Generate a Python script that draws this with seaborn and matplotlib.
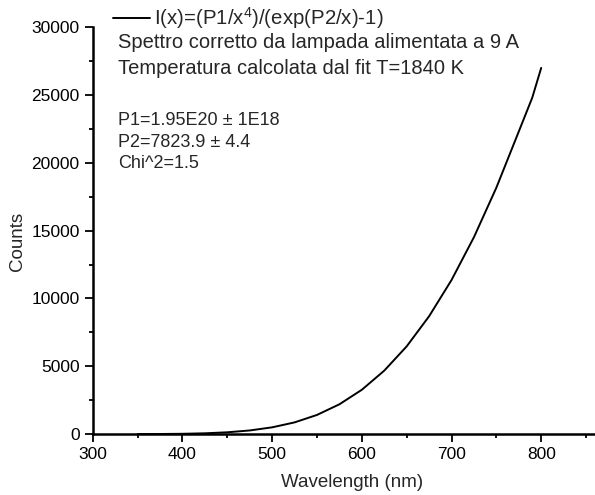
import matplotlib
matplotlib.use('Agg')
import matplotlib.pyplot as plt
import seaborn as sns
import pandas as pd
from matplotlib.ticker import MultipleLocator

# valori (spettro corretto, lampada a 9 A)
wavelength = [350, 375, 400, 425, 450, 475, 500, 525, 550, 575, 600, 625,
              650, 675, 700, 725, 750, 775, 790, 800]
counts = [3, 9, 24, 60, 134, 270, 500, 865, 1415, 2200, 3270, 4680,
          6470, 8690, 11360, 14520, 18170, 22310, 24800, 27000]

legend_label = r'I(x)=(P1/x$^4$)/(exp(P2/x)-1)'
info_lines = ['Spettro corretto da lampada alimentata a 9 A',
              'Temperatura calcolata dal fit T=1840 K']
fit_lines = ['P1=1.95E20 ± 1E18',
             'P2=7823.9 ± 4.4',
             'Chi^2=1.5']

df = pd.DataFrame({'Wavelength': wavelength, 'Counts': counts})

sns.set_style('ticks')
plt.rcParams['font.family'] = ['Liberation Sans', 'DejaVu Sans']
plt.rcParams['mathtext.fontset'] = 'custom'
plt.rcParams['mathtext.rm'] = 'Liberation Sans'

fig = plt.figure(figsize=(5.95, 4.95), dpi=100)
ax = fig.add_axes([0.156, 0.123, 0.844, 0.822])

sns.lineplot(data=df, x='Wavelength', y='Counts', ax=ax, color='black',
             linewidth=1.4, label=legend_label)

ax.set_xlim(300, 860)
ax.set_ylim(0, 30000)
ax.xaxis.set_major_locator(MultipleLocator(100))
ax.xaxis.set_minor_locator(MultipleLocator(50))
ax.yaxis.set_major_locator(MultipleLocator(5000))
ax.yaxis.set_minor_locator(MultipleLocator(2500))
ax.tick_params(which='both', direction='out', colors='black', labelsize=12.5,
               width=1.3)
ax.tick_params(which='major', length=6)
ax.tick_params(which='minor', length=3)
for s in ['top', 'right']:
    ax.spines[s].set_visible(False)
for s in ['left', 'bottom']:
    ax.spines[s].set_linewidth(1.8)
    ax.spines[s].set_color('black')

ax.set_xlabel('Wavelength (nm)', fontsize=13.5)
ax.set_ylabel('Counts', fontsize=13.5)
ax.xaxis.set_label_coords(0.516, -0.098)
ax.yaxis.set_label_coords(-0.133, 0.474)

ax.legend(loc='center left', bbox_to_anchor=(0.04, 1.022), frameon=False,
          fontsize=14.7, handlelength=1.8, handletextpad=0.2, borderpad=0,
          borderaxespad=0)

for txt, yy in zip(info_lines, [0.963, 0.899]):
    ax.text(0.05, yy, txt, transform=ax.transAxes, fontsize=14.5,
            va='center', ha='left')
for txt, yy in zip(fit_lines, [0.771, 0.717, 0.666]):
    ax.text(0.05, yy, txt, transform=ax.transAxes, fontsize=13,
            va='center', ha='left')

fig.savefig('out.png', dpi=100)
